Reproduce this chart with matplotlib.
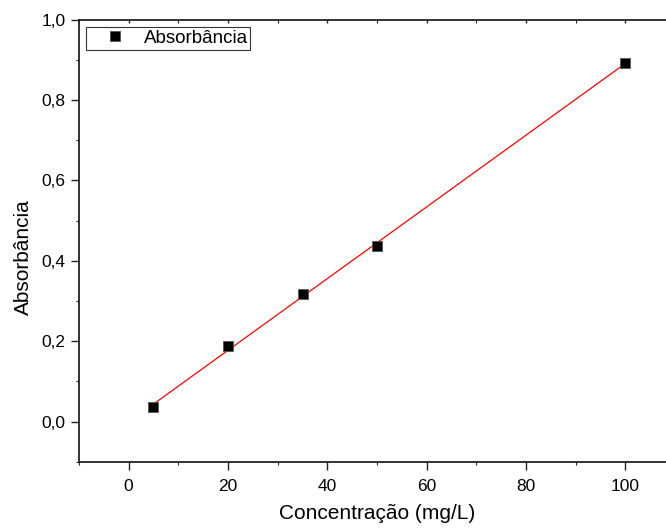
import numpy as np
import matplotlib.pyplot as plt
from matplotlib.ticker import MultipleLocator, FuncFormatter

plt.rcParams['font.family'] = ['Liberation Sans', 'DejaVu Sans']

# calibration points
concentracao = [5, 20, 35, 50, 100]
absorbancia = [0.035, 0.187, 0.317, 0.437, 0.891]

# linear fit over the measured range
coef = np.polyfit(concentracao, absorbancia, 1)
x_fit = np.array([min(concentracao), max(concentracao)])
y_fit = np.polyval(coef, x_fit)

fig = plt.figure(figsize=(6.66, 5.29), dpi=100)
ax = fig.add_axes([0.1186, 0.1272, 0.895, 0.8359])

ax.plot(x_fit, y_fit, color='red', lw=0.9, zorder=2)
ax.plot(concentracao, absorbancia, 's', color='black', markersize=7,
        markeredgecolor='#555555', markeredgewidth=0.6, label='Absorbância', zorder=3)

ax.set_xlim(-10, 110)
ax.set_ylim(-0.1, 1.0)

ax.xaxis.set_major_locator(MultipleLocator(20))
ax.xaxis.set_minor_locator(MultipleLocator(10))
ax.yaxis.set_major_locator(MultipleLocator(0.2))
ax.yaxis.set_minor_locator(MultipleLocator(0.1))
ax.yaxis.set_major_formatter(FuncFormatter(lambda v, p: f'{v:.1f}'.replace('.', ',')))

for s in ax.spines.values():
    s.set_linewidth(1.3)
    s.set_color('#222222')

ax.tick_params(which='major', direction='out', length=5.5, width=1.0, labelsize=12.5,
               color='#222222', right=False)
ax.tick_params(axis='x', which='major', pad=7)
ax.tick_params(axis='y', which='major', pad=4)
ax.tick_params(which='minor', direction='out', length=2.5, width=0.8,
               color='#222222', right=False)
# small inward ticks along the top edge
ax.tick_params(axis='x', which='both', top=True, labeltop=False)
for t in ax.xaxis.get_major_ticks() + ax.xaxis.get_minor_ticks():
    t.tick2line.set_marker(3)
    t.tick2line.set_markersize(2)

ax.set_xlabel('Concentração (mg/L)', fontsize=15, labelpad=7)
ax.set_ylabel('Absorbância', fontsize=15, labelpad=6)
ax.yaxis.label.set_y(0.463)

leg = ax.legend(loc='upper left', fontsize=13.5, frameon=True, fancybox=False,
                edgecolor='black', borderpad=0.15, handletextpad=0.12,
                borderaxespad=0.4, handlelength=2.77)
leg.get_frame().set_linewidth(0.8)

fig.savefig('out.png', dpi=100)
